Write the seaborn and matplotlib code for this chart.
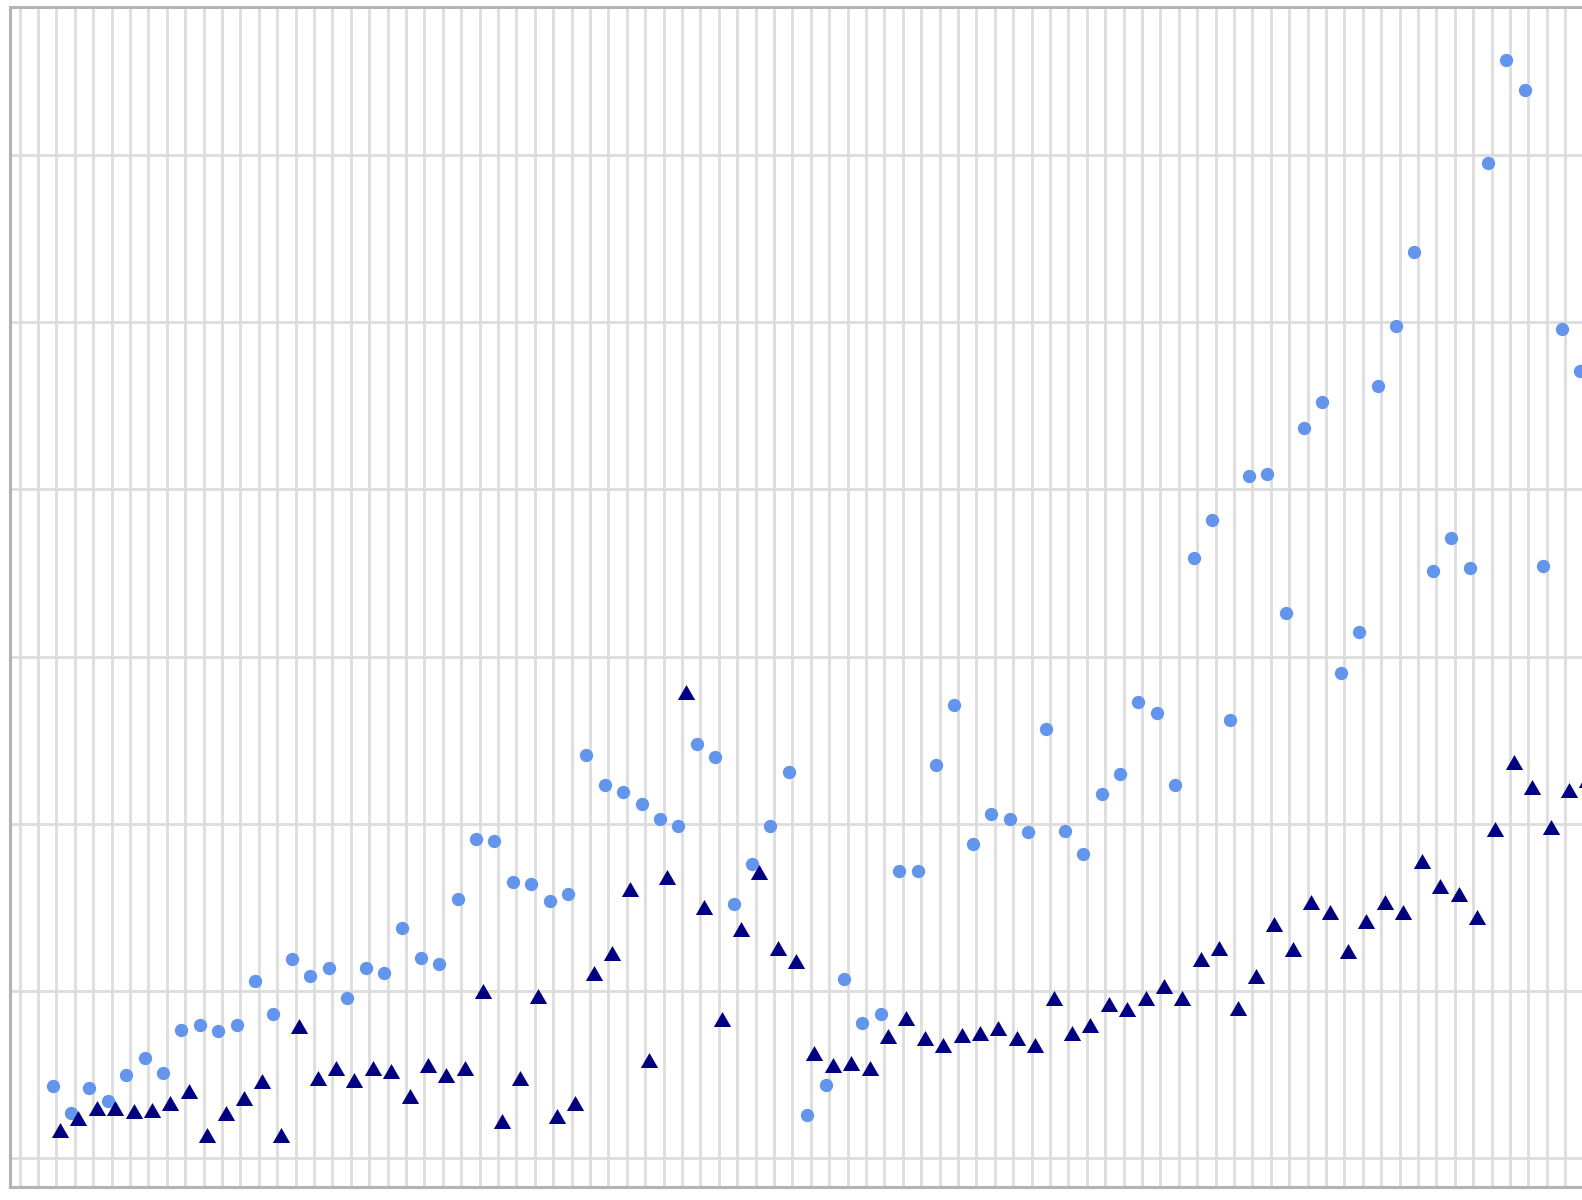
import numpy as np
import pandas as pd
import matplotlib
matplotlib.use("Agg")
import matplotlib.pyplot as plt
from matplotlib.path import Path
from matplotlib.markers import MarkerStyle
import seaborn as sns

# one value per period (bottom gridline = 0, gridlines every 10)
circle_vals = [4.3, 2.7, 4.2, 3.4, 5.0, 6.0, 5.1, 7.7, 8.0, 7.6,
               8.0, 10.6, 8.6, 11.9, 10.9, 11.4, 9.6, 11.4, 11.1, 13.8,
               12.0, 11.6, 15.5, 19.1, 19.0, 16.5, 16.4, 15.4, 15.8, 24.1,
               22.3, 21.9, 21.2, 20.3, 19.9, 24.8, 24.0, 15.2, 17.6, 19.9,
               23.1, 2.6, 4.4, 10.7, 8.1, 8.6, 17.2, 17.2, 23.5, 27.1,
               18.8, 20.6, 20.3, 19.5, 25.7, 19.6, 18.2, 21.8, 23.0, 27.3,
               26.6, 22.3, 35.9, 38.2, 26.2, 40.8, 40.9, 32.6, 43.7, 45.2,
               29.0, 31.5, 46.2, 49.8, 54.2, 35.1, 37.1, 35.3, 59.5, 65.7,
               63.9, 35.4, 49.6, 47.1]
triangle_vals = [1.7, 2.4, 3.0, 3.0, 2.8, 2.9, 3.3, 4.0, 1.4, 2.7,
                 3.6, 4.6, 1.4, 7.9, 4.8, 5.4, 4.7, 5.4, 5.2, 3.7,
                 5.6, 5.0, 5.4, 10.0, 2.2, 4.8, 9.7, 2.5, 3.3, 11.1,
                 12.3, 16.1, 5.9, 16.8, 27.9, 15.0, 8.3, 13.7, 17.1, 12.6,
                 11.8, 6.3, 5.6, 5.7, 5.4, 7.3, 8.4, 7.2, 6.8, 7.4,
                 7.5, 7.8, 7.2, 6.8, 9.6, 7.5, 8.0, 9.2, 8.9, 9.6,
                 10.3, 9.6, 11.9, 12.6, 9.0, 10.9, 14.0, 12.5, 15.3, 14.7,
                 12.4, 14.2, 15.3, 14.7, 17.8, 16.3, 15.8, 14.4, 19.7, 23.7,
                 22.2, 19.8, 22.0, 22.6]
periods = list(range(len(circle_vals)))

df = pd.DataFrame({"period": periods, "circle": circle_vals, "triangle": triangle_vals})
# the two series sit side by side within each period
df["x_circle"] = df["period"] - 0.2
df["x_triangle"] = df["period"] + 0.2

sns.set_style("white")
fig = plt.figure(figsize=(15.82, 12.0), dpi=100)
# the picture is a crop: axes run past the right edge, labels are outside
ax = fig.add_axes([10 / 1582, 1 - 1186.7 / 1200, 1.2, 1180 / 1200])

sns.scatterplot(data=df, x="x_circle", y="circle", color="#6495ED", s=92,
                linewidth=0, ax=ax, zorder=3, legend=False)
tri = MarkerStyle(Path([(0, 0.866), (-1, -0.866), (1, -0.866), (0, 0.866)], closed=True))
sns.scatterplot(data=df, x="x_triangle", y="triangle", color="#000080", marker=tri,
                s=155, linewidth=0, ax=ax, zorder=4, legend=False)

ax.set_xlim(-2.52, 100.65)
ax.set_ylim(-1.70, 68.87)
ax.set_xticks(np.arange(-2, 101))
ax.set_yticks(np.arange(0, 70, 10))
ax.grid(True, color="#dddddd", linewidth=2.0)
ax.set_axisbelow(True)
for side in ["left", "top", "bottom", "right"]:
    ax.spines[side].set_color("#b3b3b3")
    ax.spines[side].set_linewidth(2.2)
ax.tick_params(direction="out", length=10, width=2, color="#b3b3b3",
               labelleft=False, labelbottom=False)
ax.set_xlabel("")
ax.set_ylabel("")

fig.savefig("out.png", dpi=100)
